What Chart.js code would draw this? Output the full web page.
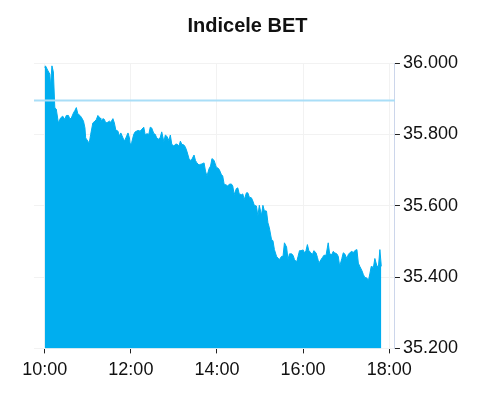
<!DOCTYPE html>
<html>
<head>
<meta charset="utf-8">
<title>Indicele BET</title>
<script src="https://cdn.jsdelivr.net/npm/chart.js@4/dist/chart.umd.min.js"></script>
<style>
  html, body { margin: 0; padding: 0; background: #fff; }
  #chart { display: block; }
</style>
</head>
<body>
<canvas id="chart" width="492" height="400"></canvas>
<script>
// Indicele BET, intraday
const chartTitle = 'Indicele BET';
const xTickLabels = ['10:00', '12:00', '14:00', '16:00', '18:00'];
const yTickValues = [35200, 35400, 35600, 35800, 36000];
const prevClose = 35895;

const times = [
  '10:00','10:01','10:04','10:07','10:08','10:10','10:12','10:14','10:16','10:19',
  '10:22','10:25','10:28','10:30','10:33','10:35','10:37','10:40','10:42','10:44',
  '10:46','10:49','10:51','10:54','10:56','10:57','11:00','11:02','11:04','11:07',
  '11:10','11:12','11:14','11:17','11:18','11:21','11:23','11:25','11:28','11:30',
  '11:32','11:35','11:37','11:39','11:42','11:44','11:46','11:49','11:51','11:53',
  '11:56','11:58','11:59','12:01','12:04','12:06','12:10','12:13','12:15','12:18',
  '12:20','12:22','12:25','12:27','12:29','12:32','12:34','12:36','12:39','12:41',
  '12:43','12:46','12:48','12:50','12:53','12:55','12:57','13:00','13:02','13:04',
  '13:07','13:09','13:11','13:14','13:16','13:18','13:21','13:23','13:25','13:28',
  '13:30','13:32','13:35','13:37','13:39','13:42','13:44','13:46','13:49','13:51',
  '13:53','13:56','13:59','14:01','14:03','14:06','14:08','14:10','14:13','14:15',
  '14:17','14:20','14:22','14:24','14:27','14:29','14:31','14:34','14:36','14:38',
  '14:41','14:43','14:45','14:48','14:50','14:52','14:55','14:57','14:59','15:02',
  '15:04','15:06','15:09','15:11','15:13','15:16','15:18','15:20','15:23','15:25',
  '15:27','15:30','15:32','15:34','15:37','15:39','15:41','15:44','15:46','15:48',
  '15:51','15:53','15:55','15:57','16:00','16:02','16:04','16:06','16:08','16:11',
  '16:13','16:15','16:18','16:20','16:22','16:25','16:27','16:29','16:32','16:35',
  '16:37','16:40','16:42','16:44','16:47','16:49','16:51','16:54','16:56','16:58',
  '17:01','17:03','17:05','17:08','17:10','17:12','17:15','17:17','17:19','17:22',
  '17:24','17:26','17:29','17:31','17:33','17:35','17:38','17:40','17:43','17:45',
  '17:47','17:49'
];

const values = [
  35987,35992,35980,35969,35935,35992,35975,35875,35871,35832,
  35846,35851,35842,35853,35853,35843,35846,35860,35867,35875,
  35858,35853,35848,35837,35818,35790,35781,35776,35800,35832,
  35837,35842,35853,35846,35837,35844,35842,35832,35834,35837,
  35834,35844,35832,35812,35809,35795,35804,35790,35781,35790,
  35804,35790,35772,35776,35800,35807,35811,35809,35814,35820,
  35798,35802,35800,35820,35818,35802,35800,35790,35786,35792,
  35807,35779,35798,35795,35783,35798,35772,35767,35772,35773,
  35767,35781,35772,35770,35764,35753,35732,35727,35730,35742,
  35727,35720,35714,35716,35717,35720,35697,35683,35704,35711,
  35732,35727,35708,35706,35702,35688,35683,35660,35658,35655,
  35660,35661,35655,35631,35648,35650,35633,35631,35633,35617,
  35636,35636,35624,35622,35613,35601,35599,35571,35601,35573,
  35601,35586,35585,35552,35538,35505,35502,35477,35458,35453,
  35449,35458,35458,35496,35484,35449,35465,35465,35461,35449,
  35442,35458,35474,35474,35476,35468,35474,35491,35474,35468,
  35463,35474,35468,35455,35439,35449,35455,35461,35461,35496,
  35465,35463,35472,35468,35465,35458,35430,35452,35468,35465,
  35452,35463,35468,35472,35468,35474,35477,35439,35430,35418,
  35407,35399,35397,35390,35409,35430,35427,35452,35430,35430,
  35477,35430
];

// axis range in minutes since midnight
const X_MIN = 585;
const X_MAX = 1088;

const toMin = s => { const [h, m] = s.split(':').map(Number); return h * 60 + m; };
const fmtTime = v => `${Math.floor(v / 60)}:${String(v % 60).padStart(2, '0')}`;
const fmtNum = v => { const s = String(Math.round(v)); return s.slice(0, -3) + '.' + s.slice(-3); };

Chart.defaults.font.family = "'Liberation Sans', Arial, sans-serif";
Chart.defaults.color = '#111';

const ctx = document.getElementById('chart').getContext('2d');
new Chart(ctx, {
  type: 'line',
  data: {
    datasets: [
      {
        // previous close
        data: [{ x: X_MIN, y: prevClose }, { x: X_MAX, y: prevClose }],
        borderColor: '#a9def7',
        borderWidth: 2,
        pointRadius: 0,
        fill: false,
        order: 0
      },
      {
        data: times.map((t, i) => ({ x: toMin(t), y: values[i] })),
        borderColor: '#00aeef',
        backgroundColor: '#00aeef',
        borderWidth: 1,
        pointRadius: 0,
        tension: 0,
        fill: 'start',
        order: 1
      }
    ]
  },
  options: {
    responsive: false,
    animation: false,
    layout: { padding: { top: 12, left: 34, right: 31, bottom: 13 } },
    plugins: {
      legend: { display: false },
      tooltip: { enabled: false },
      title: {
        display: true,
        text: chartTitle,
        color: '#111',
        font: { size: 20, weight: 'bold' },
        padding: { top: 2, bottom: 25 }
      }
    },
    scales: {
      x: {
        type: 'linear',
        min: X_MIN,
        max: X_MAX,
        afterBuildTicks: axis => { axis.ticks = xTickLabels.map(s => ({ value: toMin(s) })); },
        grid: { color: '#f2f2f2', tickColor: '#222', tickLength: 5 },
        border: { display: false },
        ticks: { font: { size: 18 }, color: '#111', padding: 6, maxRotation: 0, callback: v => fmtTime(v) }
      },
      y: {
        position: 'right',
        min: 35200,
        max: 36000,
        afterBuildTicks: axis => { axis.ticks = yTickValues.map(v => ({ value: v })); },
        grid: { color: '#f2f2f2', tickColor: '#222', tickLength: 5 },
        border: { display: true, color: '#ccd6eb' },
        ticks: { font: { size: 18 }, color: '#111', padding: 3, callback: v => fmtNum(v) }
      }
    }
  }
});
</script>
</body>
</html>
